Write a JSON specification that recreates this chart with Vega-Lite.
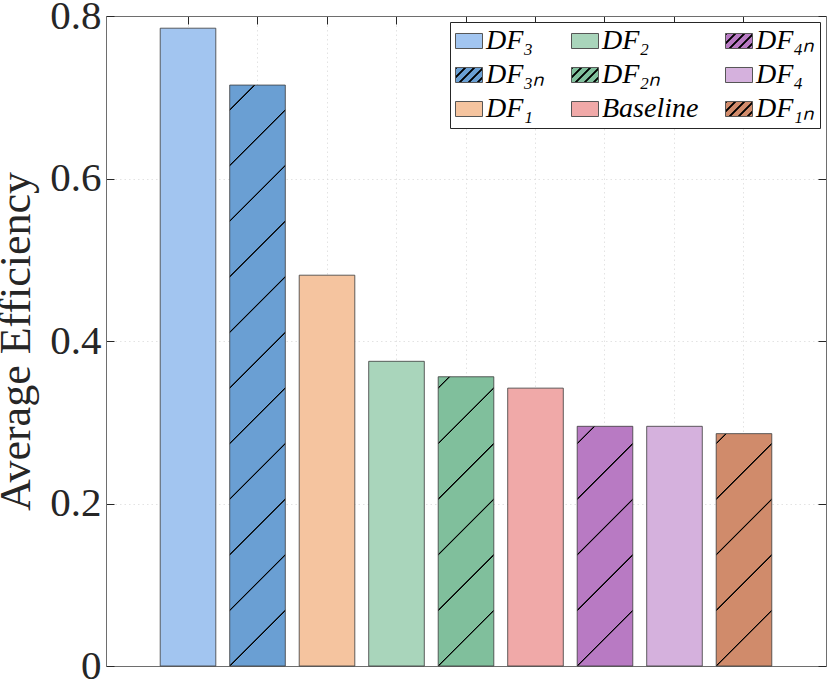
{
  "$schema": "https://vega.github.io/schema/vega-lite/v6.json",
  "width": 720,
  "height": 650,
  "autosize": {"type": "none"},
  "padding": {"left": 106, "top": 16, "right": 4, "bottom": 16},
  "background": "white",
  "config": {
    "view": {"stroke": null},
    "font": "Liberation Serif"
  },
  "data": {
    "values": [
      {"method": "DF₃", "efficiency": 0.785},
      {"method": "DF₃ₙ", "efficiency": 0.715},
      {"method": "DF₁", "efficiency": 0.481},
      {"method": "DF₂", "efficiency": 0.375},
      {"method": "DF₂ₙ", "efficiency": 0.356},
      {"method": "Baseline", "efficiency": 0.342},
      {"method": "DF₄ₙ", "efficiency": 0.295},
      {"method": "DF₄", "efficiency": 0.295},
      {"method": "DF₁ₙ", "efficiency": 0.286}
    ]
  },
  "resolve": {"scale": {"fill": "independent"}, "legend": {"fill": "independent"}},
  "layer": [
    {
      "mark": {"type": "bar", "stroke": "#3a3a3a", "strokeWidth": 0.8},
      "encoding": {
        "x": {
          "field": "method",
          "type": "nominal",
          "sort": ["DF₃", "DF₃ₙ", "DF₁", "DF₂", "DF₂ₙ", "Baseline", "DF₄ₙ", "DF₄", "DF₁ₙ"],
          "scale": {"paddingInner": 0.2, "paddingOuter": 0.78},
          "axis": {
            "orient": "bottom",
            "title": null,
            "labels": false,
            "tickSize": -8,
            "tickColor": "#262626",
            "domainColor": "#6e6e6e",
            "domainWidth": 1,
            "grid": true,
            "gridColor": "#dcdcdc",
            "gridDash": [1.5, 3],
            "gridWidth": 0.8
          }
        },
        "y": {
          "field": "efficiency",
          "type": "quantitative",
          "scale": {"domain": [0, 0.8], "nice": false},
          "axis": {
            "orient": "left",
            "title": "Average Efficiency",
            "values": [0, 0.2, 0.4, 0.6, 0.8],
            "format": "~g",
            "tickSize": -8,
            "tickColor": "#262626",
            "domainColor": "#6e6e6e",
            "domainWidth": 1,
            "labelFont": "Liberation Serif",
            "labelFontSize": 41,
            "labelColor": "#262626",
            "labelPadding": 13,
            "titleFont": "Liberation Serif",
            "titleFontSize": 44,
            "titleFontWeight": "normal",
            "titleColor": "#262626",
            "titlePadding": 11,
            "grid": true,
            "gridColor": "#dcdcdc",
            "gridDash": [1.5, 3],
            "gridWidth": 0.8
          }
        },
        "fill": {
          "field": "method",
          "type": "nominal",
          "legend": null,
          "scale": {
            "domain": ["DF₃", "DF₃ₙ", "DF₁", "DF₂", "DF₂ₙ", "Baseline", "DF₄ₙ", "DF₄", "DF₁ₙ"],
            "range": ["#a2c5f0", "#6a9fd3", "#f5c49f", "#a9d5bb", "#80bf9c", "#f0a9a8", "#b87ac3", "#d5b1dd", "#d08b6b"]
          },
          "condition": [
            {
              "test": "datum.method === 'DF₃ₙ'",
              "value": {
                "gradient": "linear", "x1": 1, "y1": 1, "x2": 0.8961, "y2": -0.0858,
                "stops": [
                  {"offset": 0, "color": "#6a9fd3"},
                  {"offset": 0.0855, "color": "#6a9fd3"}, {"offset": 0.0868, "color": "#000000"}, {"offset": 0.0880, "color": "#000000"}, {"offset": 0.0893, "color": "#6a9fd3"},
                  {"offset": 0.1728, "color": "#6a9fd3"}, {"offset": 0.1741, "color": "#000000"}, {"offset": 0.1753, "color": "#000000"}, {"offset": 0.1766, "color": "#6a9fd3"},
                  {"offset": 0.2602, "color": "#6a9fd3"}, {"offset": 0.2615, "color": "#000000"}, {"offset": 0.2627, "color": "#000000"}, {"offset": 0.2640, "color": "#6a9fd3"},
                  {"offset": 0.3475, "color": "#6a9fd3"}, {"offset": 0.3488, "color": "#000000"}, {"offset": 0.3500, "color": "#000000"}, {"offset": 0.3513, "color": "#6a9fd3"},
                  {"offset": 0.4349, "color": "#6a9fd3"}, {"offset": 0.4362, "color": "#000000"}, {"offset": 0.4374, "color": "#000000"}, {"offset": 0.4387, "color": "#6a9fd3"},
                  {"offset": 0.5222, "color": "#6a9fd3"}, {"offset": 0.5235, "color": "#000000"}, {"offset": 0.5247, "color": "#000000"}, {"offset": 0.5260, "color": "#6a9fd3"},
                  {"offset": 0.6096, "color": "#6a9fd3"}, {"offset": 0.6109, "color": "#000000"}, {"offset": 0.6121, "color": "#000000"}, {"offset": 0.6134, "color": "#6a9fd3"},
                  {"offset": 0.6969, "color": "#6a9fd3"}, {"offset": 0.6982, "color": "#000000"}, {"offset": 0.6994, "color": "#000000"}, {"offset": 0.7007, "color": "#6a9fd3"},
                  {"offset": 0.7843, "color": "#6a9fd3"}, {"offset": 0.7856, "color": "#000000"}, {"offset": 0.7868, "color": "#000000"}, {"offset": 0.7881, "color": "#6a9fd3"},
                  {"offset": 0.8716, "color": "#6a9fd3"}, {"offset": 0.8729, "color": "#000000"}, {"offset": 0.8741, "color": "#000000"}, {"offset": 0.8754, "color": "#6a9fd3"},
                  {"offset": 0.9590, "color": "#6a9fd3"}, {"offset": 0.9603, "color": "#000000"}, {"offset": 0.9615, "color": "#000000"}, {"offset": 0.9628, "color": "#6a9fd3"},
                  {"offset": 1, "color": "#6a9fd3"}
                ]
              }
            },
            {
              "test": "datum.method === 'DF₂ₙ'",
              "value": {
                "gradient": "linear", "x1": 1, "y1": 1, "x2": 0.7790, "y2": -0.1498,
                "stops": [
                  {"offset": 0, "color": "#80bf9c"},
                  {"offset": 0.1577, "color": "#80bf9c"}, {"offset": 0.1600, "color": "#000000"}, {"offset": 0.1624, "color": "#000000"}, {"offset": 0.1647, "color": "#80bf9c"},
                  {"offset": 0.3190, "color": "#80bf9c"}, {"offset": 0.3213, "color": "#000000"}, {"offset": 0.3237, "color": "#000000"}, {"offset": 0.3260, "color": "#80bf9c"},
                  {"offset": 0.4802, "color": "#80bf9c"}, {"offset": 0.4825, "color": "#000000"}, {"offset": 0.4849, "color": "#000000"}, {"offset": 0.4872, "color": "#80bf9c"},
                  {"offset": 0.6414, "color": "#80bf9c"}, {"offset": 0.6437, "color": "#000000"}, {"offset": 0.6461, "color": "#000000"}, {"offset": 0.6484, "color": "#80bf9c"},
                  {"offset": 0.8027, "color": "#80bf9c"}, {"offset": 0.8050, "color": "#000000"}, {"offset": 0.8074, "color": "#000000"}, {"offset": 0.8097, "color": "#80bf9c"},
                  {"offset": 0.9639, "color": "#80bf9c"}, {"offset": 0.9662, "color": "#000000"}, {"offset": 0.9686, "color": "#000000"}, {"offset": 0.9709, "color": "#80bf9c"},
                  {"offset": 1, "color": "#80bf9c"}
                ]
              }
            },
            {
              "test": "datum.method === 'DF₄ₙ'",
              "value": {
                "gradient": "linear", "x1": 1, "y1": 1, "x2": 0.7288, "y2": -0.169,
                "stops": [
                  {"offset": 0, "color": "#b87ac3"},
                  {"offset": 0.1842, "color": "#b87ac3"}, {"offset": 0.1869, "color": "#000000"}, {"offset": 0.1897, "color": "#000000"}, {"offset": 0.1924, "color": "#b87ac3"},
                  {"offset": 0.3725, "color": "#b87ac3"}, {"offset": 0.3752, "color": "#000000"}, {"offset": 0.3780, "color": "#000000"}, {"offset": 0.3807, "color": "#b87ac3"},
                  {"offset": 0.5607, "color": "#b87ac3"}, {"offset": 0.5634, "color": "#000000"}, {"offset": 0.5662, "color": "#000000"}, {"offset": 0.5689, "color": "#b87ac3"},
                  {"offset": 0.7490, "color": "#b87ac3"}, {"offset": 0.7517, "color": "#000000"}, {"offset": 0.7545, "color": "#000000"}, {"offset": 0.7572, "color": "#b87ac3"},
                  {"offset": 0.9373, "color": "#b87ac3"}, {"offset": 0.9400, "color": "#000000"}, {"offset": 0.9428, "color": "#000000"}, {"offset": 0.9455, "color": "#b87ac3"},
                  {"offset": 1, "color": "#b87ac3"}
                ]
              }
            },
            {
              "test": "datum.method === 'DF₁ₙ'",
              "value": {
                "gradient": "linear", "x1": 1, "y1": 1, "x2": 0.7196, "y2": -0.1722,
                "stops": [
                  {"offset": 0, "color": "#d08b6b"},
                  {"offset": 0.1889, "color": "#d08b6b"}, {"offset": 0.1917, "color": "#000000"}, {"offset": 0.1945, "color": "#000000"}, {"offset": 0.1973, "color": "#d08b6b"},
                  {"offset": 0.3819, "color": "#d08b6b"}, {"offset": 0.3847, "color": "#000000"}, {"offset": 0.3875, "color": "#000000"}, {"offset": 0.3903, "color": "#d08b6b"},
                  {"offset": 0.5750, "color": "#d08b6b"}, {"offset": 0.5778, "color": "#000000"}, {"offset": 0.5806, "color": "#000000"}, {"offset": 0.5834, "color": "#d08b6b"},
                  {"offset": 0.7680, "color": "#d08b6b"}, {"offset": 0.7708, "color": "#000000"}, {"offset": 0.7736, "color": "#000000"}, {"offset": 0.7764, "color": "#d08b6b"},
                  {"offset": 0.9611, "color": "#d08b6b"}, {"offset": 0.9639, "color": "#000000"}, {"offset": 0.9667, "color": "#000000"}, {"offset": 0.9695, "color": "#d08b6b"},
                  {"offset": 1, "color": "#d08b6b"}
                ]
              }
            }
          ]
        }
      }
    },
    {
      "mark": {"type": "point", "filled": true, "opacity": 0},
      "encoding": {
        "x": {
          "field": "method",
          "type": "nominal",
          "sort": ["DF₃", "DF₃ₙ", "DF₁", "DF₂", "DF₂ₙ", "Baseline", "DF₄ₙ", "DF₄", "DF₁ₙ"],
          "axis": {
            "orient": "top",
            "title": null,
            "labels": false,
            "tickSize": -8,
            "tickColor": "#262626",
            "domainColor": "#6e6e6e",
            "domainWidth": 1,
            "grid": false
          }
        },
        "y": {
          "field": "efficiency",
          "type": "quantitative",
          "axis": {
            "orient": "right",
            "title": null,
            "labels": false,
            "values": [0, 0.2, 0.4, 0.6, 0.8],
            "tickSize": -8,
            "tickColor": "#262626",
            "domainColor": "#6e6e6e",
            "domainWidth": 1,
            "grid": false
          }
        },
        "fill": {
          "field": "method",
          "type": "nominal",
          "scale": {
            "domain": ["DF₃", "DF₃ₙ", "DF₁", "DF₂", "DF₂ₙ", "Baseline", "DF₄ₙ", "DF₄", "DF₁ₙ"],
            "range": [
              "#a2c5f0",
              {"expr": "{gradient: 'linear', x1: 1, y1: 1, x2: -0.1888, y2: 0.3396, stops: [{offset: 0, color: '#6a9fd3'}, {offset: 0.079, color: '#6a9fd3'}, {offset: 0.099, color: '#000000'}, {offset: 0.139, color: '#000000'}, {offset: 0.159, color: '#6a9fd3'}, {offset: 0.293, color: '#6a9fd3'}, {offset: 0.313, color: '#000000'}, {offset: 0.353, color: '#000000'}, {offset: 0.373, color: '#6a9fd3'}, {offset: 0.508, color: '#6a9fd3'}, {offset: 0.528, color: '#000000'}, {offset: 0.568, color: '#000000'}, {offset: 0.588, color: '#6a9fd3'}, {offset: 0.722, color: '#6a9fd3'}, {offset: 0.742, color: '#000000'}, {offset: 0.782, color: '#000000'}, {offset: 0.802, color: '#6a9fd3'}, {offset: 0.936, color: '#6a9fd3'}, {offset: 0.956, color: '#000000'}, {offset: 1, color: '#000000'}]}"},
              "#f5c49f",
              "#a9d5bb",
              {"expr": "{gradient: 'linear', x1: 1, y1: 1, x2: -0.1888, y2: 0.3396, stops: [{offset: 0, color: '#80bf9c'}, {offset: 0.079, color: '#80bf9c'}, {offset: 0.099, color: '#000000'}, {offset: 0.139, color: '#000000'}, {offset: 0.159, color: '#80bf9c'}, {offset: 0.293, color: '#80bf9c'}, {offset: 0.313, color: '#000000'}, {offset: 0.353, color: '#000000'}, {offset: 0.373, color: '#80bf9c'}, {offset: 0.508, color: '#80bf9c'}, {offset: 0.528, color: '#000000'}, {offset: 0.568, color: '#000000'}, {offset: 0.588, color: '#80bf9c'}, {offset: 0.722, color: '#80bf9c'}, {offset: 0.742, color: '#000000'}, {offset: 0.782, color: '#000000'}, {offset: 0.802, color: '#80bf9c'}, {offset: 0.936, color: '#80bf9c'}, {offset: 0.956, color: '#000000'}, {offset: 1, color: '#000000'}]}"},
              "#f0a9a8",
              {"expr": "{gradient: 'linear', x1: 1, y1: 1, x2: -0.1888, y2: 0.3396, stops: [{offset: 0, color: '#b87ac3'}, {offset: 0.079, color: '#b87ac3'}, {offset: 0.099, color: '#000000'}, {offset: 0.139, color: '#000000'}, {offset: 0.159, color: '#b87ac3'}, {offset: 0.293, color: '#b87ac3'}, {offset: 0.313, color: '#000000'}, {offset: 0.353, color: '#000000'}, {offset: 0.373, color: '#b87ac3'}, {offset: 0.508, color: '#b87ac3'}, {offset: 0.528, color: '#000000'}, {offset: 0.568, color: '#000000'}, {offset: 0.588, color: '#b87ac3'}, {offset: 0.722, color: '#b87ac3'}, {offset: 0.742, color: '#000000'}, {offset: 0.782, color: '#000000'}, {offset: 0.802, color: '#b87ac3'}, {offset: 0.936, color: '#b87ac3'}, {offset: 0.956, color: '#000000'}, {offset: 1, color: '#000000'}]}"},
              "#d5b1dd",
              {"expr": "{gradient: 'linear', x1: 1, y1: 1, x2: -0.1888, y2: 0.3396, stops: [{offset: 0, color: '#d08b6b'}, {offset: 0.079, color: '#d08b6b'}, {offset: 0.099, color: '#000000'}, {offset: 0.139, color: '#000000'}, {offset: 0.159, color: '#d08b6b'}, {offset: 0.293, color: '#d08b6b'}, {offset: 0.313, color: '#000000'}, {offset: 0.353, color: '#000000'}, {offset: 0.373, color: '#d08b6b'}, {offset: 0.508, color: '#d08b6b'}, {offset: 0.528, color: '#000000'}, {offset: 0.568, color: '#000000'}, {offset: 0.588, color: '#d08b6b'}, {offset: 0.722, color: '#d08b6b'}, {offset: 0.742, color: '#000000'}, {offset: 0.782, color: '#000000'}, {offset: 0.802, color: '#d08b6b'}, {offset: 0.936, color: '#d08b6b'}, {offset: 0.956, color: '#000000'}, {offset: 1, color: '#000000'}]}"}
            ]
          },
          "legend": {
            "title": null,
            "orient": "top-right",
            "offset": 6,
            "columns": 3,
            "columnPadding": 24,
            "rowPadding": 6,
            "padding": 5,
            "fillColor": "white",
            "strokeColor": "#262626",
            "symbolType": "M-1,-0.556H1V0.556H-1Z",
            "symbolSize": 729,
            "symbolStrokeColor": "#555555",
            "symbolStrokeWidth": 1,
            "symbolOpacity": 1,
            "labelFont": "Liberation Serif",
            "labelFontStyle": "italic",
            "labelFontSize": 28,
            "labelColor": "#000000",
            "labelOffset": 3,
            "labelLimit": 300
          }
        }
      }
    }
  ]
}
